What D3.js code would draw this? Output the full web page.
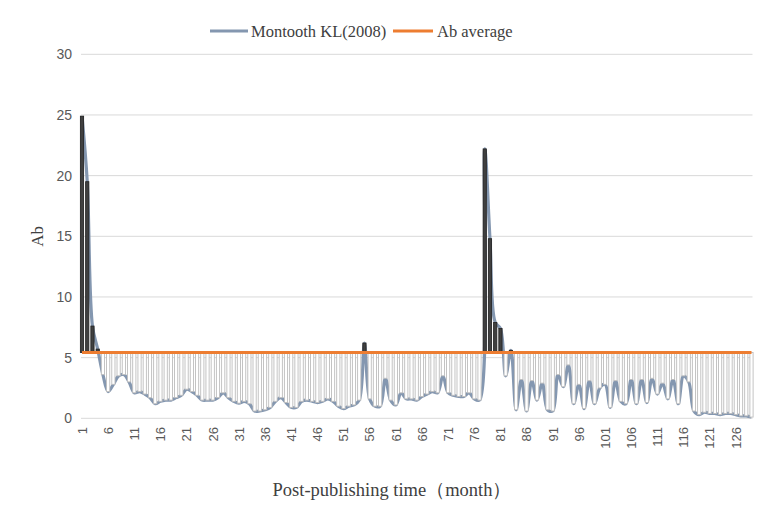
<!DOCTYPE html>
<html>
<head>
<meta charset="utf-8">
<script src="https://cdn.jsdelivr.net/npm/d3@7"></script>
<style>
  html, body { margin: 0; padding: 0; background: #fff; }
  svg { display: block; }
</style>
</head>
<body>
<svg id="chart" width="767" height="523"></svg>
<script>
// ---- data ----
const months = d3.range(1, 130);
const montooth = [
  24.9, 19.5, 7.6, 5.7, 3.6, 2.2, 2.8, 3.5, 3.6, 3.0,
  2.1, 2.2, 2.0, 1.7, 1.2, 1.4, 1.5, 1.5, 1.7, 1.9,
  2.4, 2.2, 1.9, 1.5, 1.5, 1.5, 1.7, 2.1, 1.7, 1.4,
  1.25, 1.4, 1.2, 0.6, 0.6, 0.7, 0.9, 1.4, 1.7, 1.3,
  0.9, 0.9, 1.4, 1.5, 1.4, 1.3, 1.4, 1.6, 1.4, 1.0,
  0.8, 1.0, 1.1, 1.5, 6.2, 1.6, 1.0, 1.0, 3.3, 1.5,
  1.1, 2.1, 1.6, 1.6, 1.5, 1.8, 2.0, 2.2, 2.1, 3.5,
  2.1, 1.9, 1.8, 1.8, 2.1, 1.6, 1.5, 22.2, 14.8, 7.9,
  7.4, 3.5, 5.6, 0.7, 3.2, 0.6, 3.1, 1.5, 2.9, 0.7,
  0.6, 3.6, 2.6, 4.4, 1.2, 2.8, 0.8, 3.1, 1.2, 2.5,
  2.8, 0.9, 3.1, 1.4, 1.2, 3.2, 1.2, 3.2, 1.3, 3.3,
  2.0, 2.9, 1.6, 3.2, 1.2, 3.5, 3.0, 0.6, 0.3, 0.5,
  0.4, 0.4, 0.3, 0.4, 0.4, 0.3, 0.2, 0.2, 0.1
];
const abAverage = 5.42;
const xTickLabels = ["1","6","11","16","21","26","31","36","41","46","51","56","61","66","71","76","81","86","91","96","101","106","111","116","121","126"];
const yTicks = [0, 5, 10, 15, 20, 25, 30];
const seriesNames = ["Montooth KL(2008)", "Ab average"];
const colors = { series: "#8497b0", avg: "#ed7d31" };

// ---- layout ----
const svg = d3.select("#chart");
const x = d3.scaleLinear().domain([1, 129]).range([82, 751.5]);
const y = d3.scaleLinear().domain([0, 30]).range([418.3, 54.3]);
const serif = "Liberation Serif, Times New Roman, serif";
const sans = "Liberation Sans, Arial, sans-serif";

// gridlines
svg.append("g").selectAll("line").data(yTicks).join("line")
  .attr("x1", x(1) - 1).attr("x2", x(129) + 1)
  .attr("y1", d => y(d)).attr("y2", d => y(d))
  .attr("stroke", "#d9d9d9").attr("stroke-width", 1);

// y tick labels
svg.append("g").selectAll("text").data(yTicks).join("text")
  .attr("x", 72).attr("y", d => y(d) + 5)
  .attr("text-anchor", "end")
  .attr("font-family", sans)
  .attr("font-size", 14).attr("fill", "#595959")
  .text(d => d);

// x tick labels (rotated)
svg.append("g").selectAll("text").data(xTickLabels).join("text")
  .attr("transform", d => `translate(${x(+d) + 4.8},${427}) rotate(-90)`)
  .attr("text-anchor", "end")
  .attr("font-family", sans)
  .attr("font-size", 13).attr("fill", "#595959")
  .text(d => d);

// series line (smoothed)
const line = d3.line()
  .x((d, i) => x(months[i]))
  .y(d => y(d))
  .curve(d3.curveCatmullRom.alpha(0.5));
svg.append("path").datum(montooth)
  .attr("d", line)
  .attr("fill", "none")
  .attr("stroke", colors.series)
  .attr("stroke-width", 3.2)
  .attr("stroke-linejoin", "round");

// up/down bars
const bw = 3.2;
svg.append("g").selectAll("rect").data(montooth).join("rect")
  .attr("x", (d, i) => x(months[i]) - bw / 2)
  .attr("width", bw)
  .attr("y", d => y(Math.max(d, abAverage)))
  .attr("height", d => Math.abs(y(d) - y(abAverage)))
  .attr("fill", d => d > abAverage ? "#404040" : "#ffffff")
  .attr("stroke", d => d > abAverage ? "#262626" : "#bdbdbd")
  .attr("stroke-width", 0.9);

// average line
svg.append("line")
  .attr("x1", x(1)).attr("x2", x(129))
  .attr("y1", y(abAverage)).attr("y2", y(abAverage))
  .attr("stroke", colors.avg).attr("stroke-width", 3);

// axis titles
svg.append("text")
  .attr("transform", `translate(43,${y(15)}) rotate(-90)`)
  .attr("text-anchor", "middle")
  .attr("font-family", serif)
  .attr("font-size", 17).attr("fill", "#404040")
  .text("Ab");
svg.append("text")
  .attr("x", 392).attr("y", 496)
  .attr("text-anchor", "middle")
  .attr("font-family", serif)
  .attr("font-size", 18.5).attr("fill", "#404040")
  .text("Post-publishing time（month）");

// legend
const legend = svg.append("g");
const legendItems = [
  { name: seriesNames[0], color: colors.series, x0: 210, x1: 248, tx: 251 },
  { name: seriesNames[1], color: colors.avg, x0: 393, x1: 433, tx: 437 }
];
legendItems.forEach(it => {
  legend.append("line")
    .attr("x1", it.x0).attr("x2", it.x1).attr("y1", 31).attr("y2", 31)
    .attr("stroke", it.color).attr("stroke-width", 3);
  legend.append("text")
    .attr("x", it.tx).attr("y", 37)
    .attr("font-family", serif)
    .attr("font-size", 16.5).attr("fill", "#404040")
    .text(it.name);
});
</script>
</body>
</html>
